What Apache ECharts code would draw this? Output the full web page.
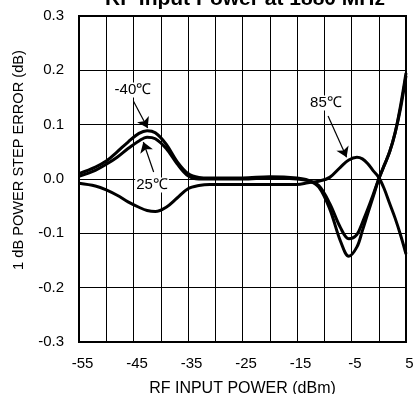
<!DOCTYPE html>
<html><head><meta charset="utf-8">
<script src="https://cdn.jsdelivr.net/npm/echarts@6/dist/echarts.min.js"></script>
<style>html,body{margin:0;padding:0;background:#fff}#c{width:419px;height:394px}</style>
</head><body><div id="c"></div>
<script>
var titleText = 'RF Input Power at 1880 MHz';
var xName = 'RF INPUT POWER (dBm)';
var yName = '1 dB POWER STEP ERROR (dB)';
var xTicks = [-55, -45, -35, -25, -15, -5, 5];
var xValues = [-55,-52,-50,-48,-46,-44,-42.5,-41,-39,-37,-35,-33,-31,-25,-20,-15,-13,-11,-9,-7,-5.5,-4,-3,-2,-1,0,1,2,3,4,5];
var errM40 = [0.010,0.022,0.033,0.050,0.068,0.084,0.089,0.085,0.064,0.032,0.010,0.003,0.002,0.002,0.004,0.002,-0.002,-0.015,-0.055,-0.115,-0.142,-0.125,-0.095,-0.063,-0.032,0.000,0.025,0.050,0.085,0.135,0.195];
var err25 = [0.005,0.016,0.027,0.040,0.056,0.070,0.077,0.074,0.056,0.028,0.006,0.000,0.000,0.000,0.002,0.000,-0.003,-0.012,-0.045,-0.090,-0.110,-0.102,-0.080,-0.055,-0.028,0.000,0.025,0.050,0.085,0.130,0.190];
var err85 = [-0.008,-0.013,-0.020,-0.030,-0.042,-0.052,-0.058,-0.060,-0.052,-0.035,-0.018,-0.012,-0.010,-0.010,-0.010,-0.010,-0.007,-0.004,0.003,0.022,0.035,0.040,0.037,0.028,0.015,0.003,-0.018,-0.045,-0.072,-0.103,-0.138];
// annotation labels: [text, x, y]
var labels = [['-40\u2103', -45.1, 0.164], ['25\u2103', -41.6, -0.011], ['85\u2103', -9.7, 0.14]];
// arrows: [fromX, fromY, toX, toY]
var arrows = [[-45.0, 0.143, -42.4, 0.094], [-41.3, 0.013, -43.2, 0.068], [-9.3, 0.116, -5.9, 0.040]];

function pairs(ys){ return xValues.map(function(x,i){ return [x, ys[i]]; }); }
var font = 'Liberation Sans, Arial, sans-serif';
function lineSeries(ys){
  return { type:'line', data:pairs(ys), smooth:0.35, symbol:'none',
    lineStyle:{color:'#000', width:3}, z:3 };
}
var series = [lineSeries(errM40), lineSeries(err25), lineSeries(err85)];
series.push({
  type:'line', data:[], silent:true,
  markLine:{ silent:true, symbol:['none','arrow'], symbolSize:10,
    lineStyle:{color:'#000', width:1.2, type:'solid'}, label:{show:false},
    emphasis:{disabled:true},
    data: arrows.map(function(a){ return [{coord:[a[0],a[1]]},{coord:[a[2],a[3]]}]; }) },
  markPoint:{ silent:true, symbol:'rect', symbolSize:0,
    label:{show:true, position:'inside', color:'#000', fontFamily:font, fontSize:15,
      backgroundColor:'#fff', padding:[0,1]},
    data: labels.map(function(l){ return {coord:[l[1],l[2]], value:l[0], label:{formatter:l[0]}}; }) },
  z:5
});
var chart = echarts.init(document.getElementById('c'));
chart.setOption({
  animation:false,
  backgroundColor:'#fff',
  title:{ text:titleText, left:240, textAlign:'center', top:-16.5,
    textStyle:{fontFamily:font, fontWeight:'bold', fontSize:21, color:'#000'} },
  grid:{ left:79, right:13, top:16, bottom:52, show:true, borderColor:'#000', borderWidth:2,
    containLabel:false, outerBoundsMode:'none' },
  xAxis:{ type:'value', min:-55, max:5, interval:5,
    name:xName, nameLocation:'middle', nameGap:39,
    nameTextStyle:{fontFamily:font, fontSize:16, color:'#000'},
    axisLine:{show:false}, axisTick:{show:false},
    splitLine:{show:true, lineStyle:{color:'#000', width:1}},
    axisLabel:{ color:'#000', fontFamily:font, fontSize:15, margin:14, padding:[0,0,0,7],
      formatter:function(v){ return xTicks.indexOf(v) >= 0 ? String(v) : ''; } } },
  yAxis:{ type:'value', min:-0.3, max:0.3, interval:0.1,
    name:yName, nameLocation:'middle', nameGap:53,
    nameTextStyle:{fontFamily:font, fontSize:14.6, color:'#000', padding:[0,0,0,38]},
    axisLine:{show:false}, axisTick:{show:false},
    splitLine:{show:true, lineStyle:{color:'#000', width:1}},
    axisLabel:{ color:'#000', fontFamily:font, fontSize:15, margin:15,
      formatter:function(v){ return (Math.abs(v) < 1e-9 ? 0 : v).toFixed(1); } } },
  series: series
});
</script></body></html>
